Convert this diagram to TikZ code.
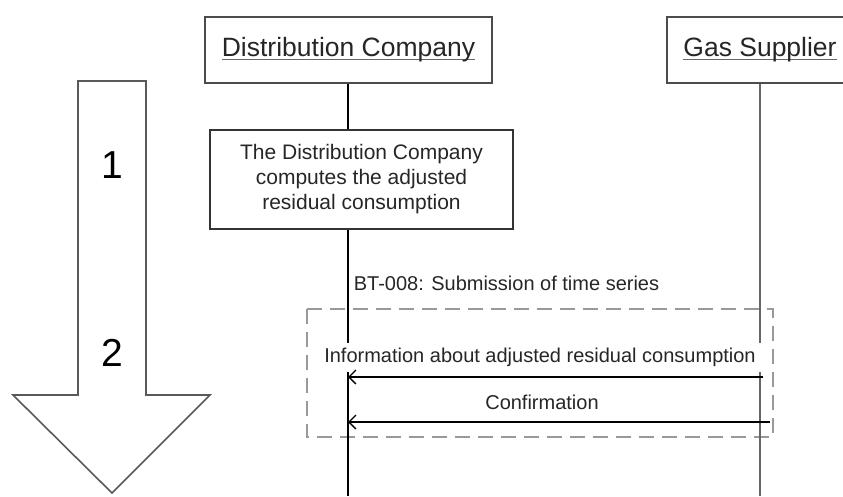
\documentclass[tikz,border=0pt]{standalone}
\usepackage{fontspec}
\setmainfont{Liberation Sans}
\usetikzlibrary{arrows.meta}
\newcommand{\ulin}[1]{\setbox0\hbox{#1}\rlap{\color{black!60}\rule[-3.5pt]{\wd0}{1.4pt}}\box0}
\begin{document}
\begin{tikzpicture}[x=1pt,y=-1pt,
  titlebox/.style={draw=black!70,line width=1.8pt,minimum height=66pt,inner sep=0pt,text=black!85,font=\fontsize{26.5}{30}\selectfont},
  procbox/.style={draw=black!80,line width=1.8pt,align=center,inner sep=0pt,text=black!85,font=\fontsize{21}{25}\selectfont},
  lifeline/.style={line width=1.4pt},
  msg/.style={line width=1.5pt,-{Straight Barb[length=7pt,width=14pt,line width=1.3pt]}},
  lbl/.style={text=black!85,font=\fontsize{20}{24}\selectfont,inner sep=0pt},
  bigarrow/.style={line width=1.6pt,draw=black!65,line join=miter},
  stepnum/.style={font=\fontsize{39}{39}\selectfont},
  frame/.style={dash pattern=on 15pt off 8pt,draw=black!40,line width=2.2pt}]
\useasboundingbox (0,0) rectangle (843,496);
\clip (0,0) rectangle (843,496);
% big step arrow
\draw[bigarrow] (78,81) -- (146,81) -- (146,395) -- (210,395) -- (112,493) -- (13,395) -- (78,395) -- cycle;
\node[stepnum] (n1) at (112,165) {1};
\node[stepnum] (n2) at (112,353) {2};
% participants
\node[titlebox,minimum width=287pt] (dc) at (348.5,50) {\ulin{Distribution Company}};
\node[titlebox,minimum width=186pt] (gs) at (760,50) {\ulin{Gas Supplier}};
\node[procbox,minimum width=303pt,minimum height=99pt] (pc) at (361.5,179.5) {The Distribution Company\\computes the adjusted\\residual consumption};
\coordinate (dcend) at (348,496);
\coordinate (gsend) at (760,496);
% frame
\draw[frame] (307,309) rectangle (773,437);
% lifelines
\draw[lifeline] (dc.south -| dcend) -- (pc.north -| dcend);
\draw[lifeline] (pc.south -| dcend) -- (dcend);
\draw[lifeline,draw=black!60] (gs.south) -- (gsend);
% labels
\node[lbl] (bt) at (506.5,283) {BT-008: Submission of time series};
\node[lbl,fill=white,minimum height=29pt,inner xsep=5pt] (info) at (540,357.5) {Information about adjusted residual consumption};
\node[lbl] (conf) at (542,402) {Confirmation};
% messages
\coordinate (m1s) at (763,377);
\coordinate (m2s) at (770,422);
\draw[msg] (m1s) -- (m1s -| dcend);
\draw[msg] (m2s) -- (m2s -| dcend);
\end{tikzpicture}
\end{document}
